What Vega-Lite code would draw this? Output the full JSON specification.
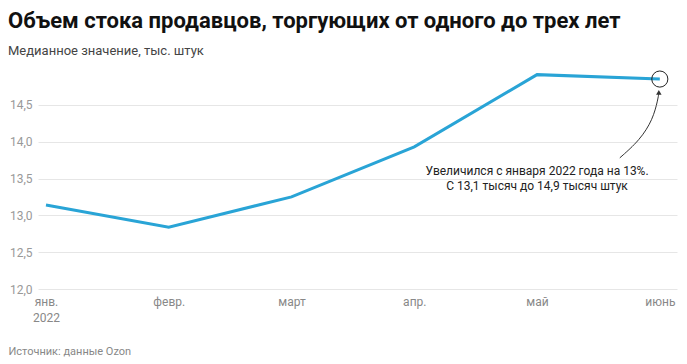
{
  "$schema": "https://vega.github.io/schema/vega-lite/v6.json",
  "width": 639,
  "height": 221,
  "autosize": {"type": "none"},
  "padding": {"left": 38, "top": 68, "right": 10, "bottom": 75},
  "background": "white",
  "title": {
    "text": "Объем стока продавцов, торгующих от одного до трех лет",
    "subtitle": "Медианное значение, тыс. штук",
    "anchor": "start",
    "frame": "group",
    "dx": -30,
    "offset": 9,
    "font": "Liberation Sans Narrow, Roboto, sans-serif",
    "fontSize": 22,
    "fontWeight": "bold",
    "color": "#111111",
    "subtitleFont": "Liberation Sans Narrow, Roboto, sans-serif",
    "subtitleFontSize": 13,
    "subtitleColor": "#444444",
    "subtitlePadding": 12
  },
  "config": {
    "view": {"stroke": null},
    "font": "Liberation Sans Narrow, Roboto, sans-serif"
  },
  "layer": [
    {
      "data": {"values": [
        {"i": 0, "v": 13.14},
        {"i": 1, "v": 12.84},
        {"i": 2, "v": 13.25},
        {"i": 3, "v": 13.93},
        {"i": 4, "v": 14.91},
        {"i": 5, "v": 14.85}
      ]},
      "mark": {"type": "line", "color": "#29a4d6", "strokeWidth": 3},
      "encoding": {
        "x": {
          "field": "i", "type": "quantitative",
          "scale": {"domain": [-0.065, 5.14], "nice": false, "zero": false},
          "axis": {
            "values": [0, 1, 2, 3, 4, 5],
            "labelExpr": "datum.value == 0 ? ['янв.', '2022'] : ['янв.', 'февр.', 'март', 'апр.', 'май', 'июнь'][datum.value]",
            "grid": false, "domain": false, "ticks": false,
            "labelColor": "#888888", "labelFontSize": 12, "labelPadding": 7, "labelLineHeight": 16,
            "labelFlush": false,
            "title": "Источник: данные Ozon",
            "titleAnchor": "start", "titleAlign": "left", "titleX": -30, "titleY": 56,
            "titleFontSize": 11, "titleFontWeight": "normal", "titleColor": "#888888"
          }
        },
        "y": {
          "field": "v", "type": "quantitative",
          "scale": {"domain": [12, 15], "nice": false, "zero": false},
          "axis": {
            "values": [12, 12.5, 13, 13.5, 14, 14.5],
            "labelExpr": "replace(format(datum.value, '.1f'), '.', ',')",
            "domain": false, "ticks": false, "gridColor": "#e6e6e6",
            "labelColor": "#999999", "labelFontSize": 12, "labelPadding": 6,
            "title": null
          }
        }
      }
    },
    {
      "data": {"values": [
        {"x": 4.674, "y": 13.78},
        {"x": 4.837, "y": 14.02},
        {"x": 4.943, "y": 14.30},
        {"x": 4.984, "y": 14.57},
        {"x": 4.992, "y": 14.66}
      ]},
      "mark": {"type": "line", "color": "#333333", "strokeWidth": 1, "interpolate": "basis"},
      "encoding": {
        "x": {"field": "x", "type": "quantitative"},
        "y": {"field": "y", "type": "quantitative"}
      }
    },
    {
      "data": {"values": [{"x": 4.992, "y": 14.67}]},
      "mark": {"type": "point", "shape": "triangle-up", "filled": true, "color": "#333333", "size": 30, "opacity": 1},
      "encoding": {
        "x": {"field": "x", "type": "quantitative"},
        "y": {"field": "y", "type": "quantitative"}
      }
    },
    {
      "data": {"values": [{"x": 5, "y": 14.85}]},
      "mark": {"type": "point", "shape": "circle", "filled": false, "color": "#222222", "strokeWidth": 1, "size": 260, "opacity": 1},
      "encoding": {
        "x": {"field": "x", "type": "quantitative"},
        "y": {"field": "y", "type": "quantitative"}
      }
    },
    {
      "data": {"values": [
        {"x": 4, "y": 13.6, "t": "Увеличился с января 2022 года на 13%."},
        {"x": 4, "y": 13.4, "t": "С 13,1 тысяч до 14,9 тысяч штук"}
      ]},
      "mark": {"type": "text", "align": "center", "baseline": "middle", "fontSize": 12, "color": "#222222"},
      "encoding": {
        "x": {"field": "x", "type": "quantitative"},
        "y": {"field": "y", "type": "quantitative"},
        "text": {"field": "t"}
      }
    }
  ]
}
